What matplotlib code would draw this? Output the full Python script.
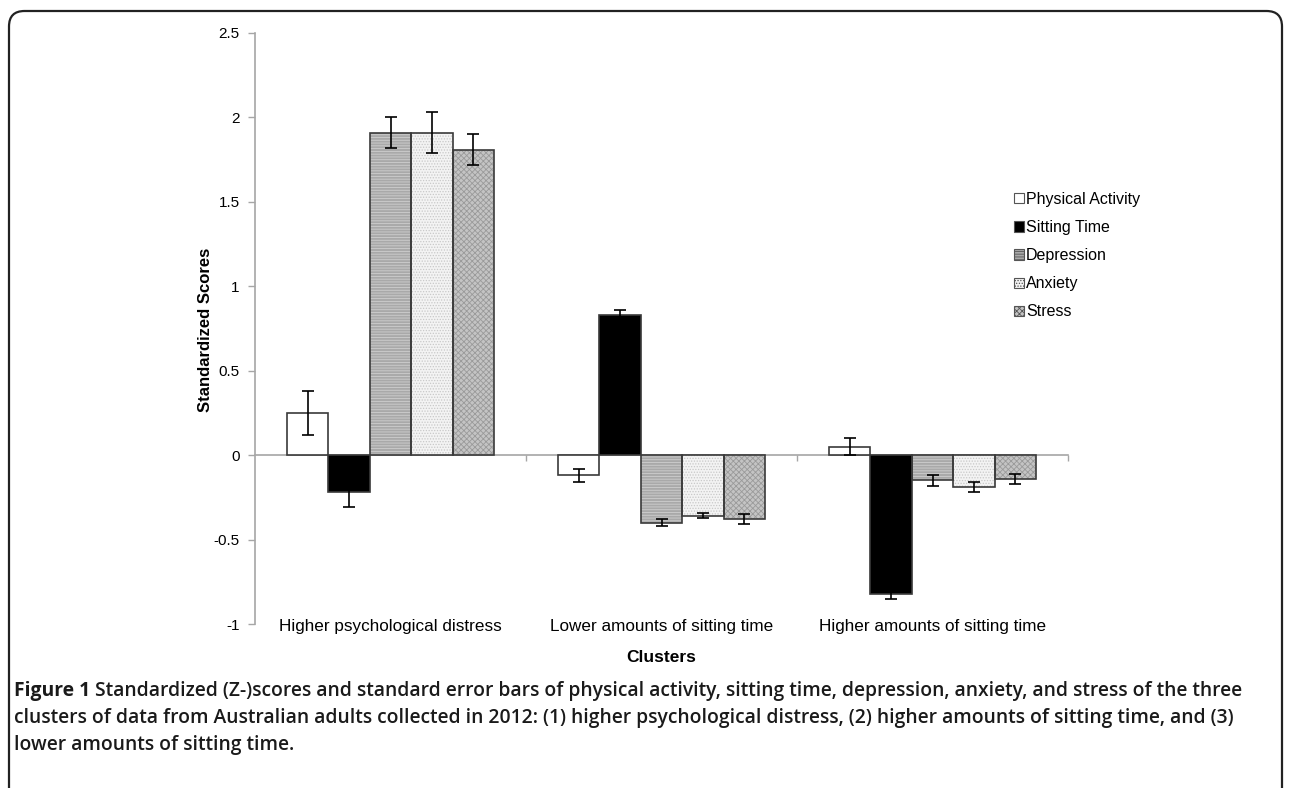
import matplotlib
matplotlib.use("Agg")
import matplotlib.pyplot as plt
import matplotlib.transforms as mtransforms
from matplotlib.patches import Patch, FancyBboxPatch
import numpy as np

# ---------------- data ----------------
clusters = ["Higher psychological distress", "Lower amounts of sitting time", "Higher amounts of sitting time"]
series = ["Physical Activity", "Sitting Time", "Depression", "Anxiety", "Stress"]
physical_activity = [0.25, -0.12, 0.05]
sitting_time = [-0.22, 0.83, -0.82]
depression = [1.91, -0.40, -0.15]
anxiety = [1.91, -0.36, -0.19]
stress = [1.81, -0.38, -0.14]
err_physical_activity = [0.13, 0.04, 0.05]
err_sitting_time = [0.09, 0.03, 0.03]
err_depression = [0.09, 0.02, 0.03]
err_anxiety = [0.12, 0.015, 0.03]
err_stress = [0.09, 0.03, 0.03]
yticks = [-1, -0.5, 0, 0.5, 1, 1.5, 2, 2.5]
ytick_labels = ["-1", "-0.5", "0", "0.5", "1", "1.5", "2", "2.5"]

values = [physical_activity, sitting_time, depression, anxiety, stress]
errors = [err_physical_activity, err_sitting_time, err_depression, err_anxiety, err_stress]

# styles: (facecolor, hatch, hatchcolor)
styles = [
    ("white", None, None),
    ("black", None, None),
    ("#a9a9a9", "------", "#cfcfcf"),
    ("#f3f3f3", "......", "#c8c8c8"),
    ("#c4c4c4", "xxxxxx", "#9a9a9a"),
]
edge = "#3a3a3a"

plt.rcParams['font.family'] = ['Liberation Sans', 'DejaVu Sans']
plt.rcParams['hatch.linewidth'] = 0.6

W, H = 1292, 788
fig = plt.figure(figsize=(W / 100, H / 100), dpi=100)
ax = fig.add_axes([255 / W, 1 - 624 / H, (1068 - 255) / W, (624 - 33) / H])

x = np.arange(len(clusters))
bw = 0.153
for k, (vals, errs, (fc, hatch, hc)) in enumerate(zip(values, errors, styles)):
    pos = x + (k - 2) * bw
    if hatch:
        plt.rcParams['hatch.color'] = hc
        ax.bar(pos, vals, width=bw, color=fc, hatch=hatch, edgecolor=hc, linewidth=0, zorder=2)
        ax.bar(pos, vals, width=bw, fill=False, edgecolor=edge, linewidth=1.2, zorder=3)
    else:
        ax.bar(pos, vals, width=bw, color=fc, edgecolor=edge, linewidth=1.2, zorder=3)
    ax.errorbar(pos, vals, yerr=errs, fmt="none", ecolor="black", elinewidth=1.2,
                capsize=4, capthick=1.2, zorder=4)

ax.set_xlim(-0.5, 2.5)
ax.set_ylim(-1, 2.5)
ax.set_yticks(yticks)
ax.set_yticklabels(ytick_labels)
for s in ["top", "right"]:
    ax.spines[s].set_visible(False)
ax.spines["left"].set_color("#a6a6a6")
ax.spines["left"].set_linewidth(1.2)
ax.spines["bottom"].set_position(("data", 0))
ax.spines["bottom"].set_color("#a6a6a6")
ax.spines["bottom"].set_linewidth(1.2)
ax.spines["bottom"].set_zorder(1)
ax.tick_params(axis="y", direction="out", length=5, width=1, color="#a6a6a6",
               labelsize=11, pad=6)
ax.set_xticks([0.5, 1.5, 2.5])
ax.set_xticklabels(["", "", ""])
ax.tick_params(axis="x", direction="out", length=4, width=1, color="#a6a6a6")

trans = mtransforms.blended_transform_factory(ax.transData, fig.transFigure)
for i, name in enumerate(clusters):
    ax.text(x[i], 1 - 626 / H, name, transform=trans, ha="center", va="center",
            fontsize=12.3, clip_on=False)

fig.text(205 / W, 1 - 330 / H, "Standardized Scores", rotation=90, ha="center",
         va="center", fontsize=12, fontweight="bold")
fig.text(661 / W, 1 - 658 / H, "Clusters", ha="center", va="center",
         fontsize=12.5, fontweight="bold")

handles = []
for (fc, hatch, hc) in styles:
    if hatch:
        plt.rcParams['hatch.color'] = hc
        handles.append(Patch(facecolor=fc, hatch=hatch, edgecolor="#555555", linewidth=0.8))
    else:
        handles.append(Patch(facecolor=fc, edgecolor="#555555", linewidth=0.8))
fig.legend(handles, series, loc="upper left", bbox_to_anchor=(1014 / W, 1 - 192 / H),
           frameon=False, fontsize=11.5, handlelength=0.6, handleheight=0.6,
           handletextpad=0.15, labelspacing=0.82, borderpad=0, borderaxespad=0)

# border
border = FancyBboxPatch((9 / W, -20 / H), (1282 - 9) / W, (777 + 20) / H,
                        boxstyle="round,pad=0,rounding_size=0.012",
                        transform=fig.transFigure, fill=False, edgecolor="#222222",
                        linewidth=1.6, clip_on=False, mutation_aspect=W / H)
fig.patches.append(border)

# caption
cap_font = ['Open Sans', 'DejaVu Sans']
cap_size = 13.9
line1_rest = " Standardized (Z-)scores and standard error bars of physical activity, sitting time, depression, anxiety, and stress of the three"
line2 = "clusters of data from Australian adults collected in 2012: (1) higher psychological distress, (2) higher amounts of sitting time, and (3)"
line3 = "lower amounts of sitting time."
y1, y2, y3 = 1 - 691 / H, 1 - 718 / H, 1 - 745 / H
t_fig = fig.text(14 / W, y1, "Figure 1", family=cap_font, fontsize=cap_size,
                 fontweight="bold", va="center", color="#1a1a1a")
fig.canvas.draw()
bb = t_fig.get_window_extent()
fig.text(bb.x1 / W, y1, line1_rest, family=cap_font, fontsize=cap_size,
         fontweight="semibold", va="center", color="#1a1a1a")
fig.text(14 / W, y2, line2, family=cap_font, fontsize=cap_size,
         fontweight="semibold", va="center", color="#1a1a1a")
fig.text(14 / W, y3, line3, family=cap_font, fontsize=cap_size,
         fontweight="semibold", va="center", color="#1a1a1a")

fig.savefig("out.png", dpi=100)
